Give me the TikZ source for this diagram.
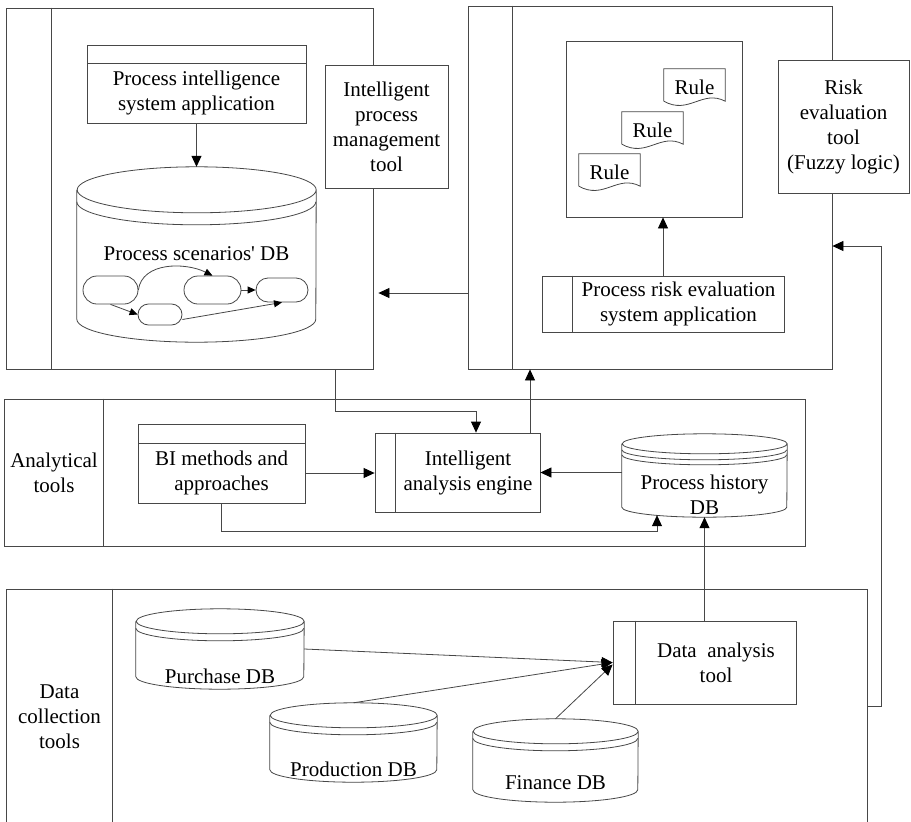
\documentclass[tikz,border=0pt]{standalone}
\usepackage{fontspec}
\setmainfont{Liberation Serif}
\usetikzlibrary{arrows.meta,shapes.misc}
\colorlet{ln}{black!72}

% database cylinder drawn round an invisible node: name, half width, ellipse radius, ring offsets
\newcommand{\dbshape}[4]{%
  \draw[wire, fill=white] ([yshift={-#3*1pt}]#1.north west) -- ([yshift={#3*1pt}]#1.south west)
    arc[start angle=180, end angle=360, x radius=#2pt, y radius=#3pt]
    -- ([yshift={-#3*1pt}]#1.north east)
    arc[start angle=0, end angle=360, x radius=#2pt, y radius=#3pt];
  \foreach \r in {#4}{%
    \draw[wire] ([yshift={-(#3+\r)*1pt}]#1.north west)
      arc[start angle=180, end angle=360, x radius=#2pt, y radius=#3pt];}%
}
% document symbol with a wavy lower edge: name, left, top
\newcommand{\ruledoc}[3]{%
  \node[minimum width=61pt, minimum height=32pt] (#1) at (#2+30.5,#3+16) {};
  \draw[wire, fill=white] (#1.south west) -- (#1.north west) -- (#1.north east) -- (#1.south east)
    .. controls ([xshift=-23pt,yshift=12pt]#1.south east) and ([xshift=25pt,yshift=-14pt]#1.south west) .. (#1.south west);
  \node (#1t) at ([yshift=-2pt]#1.center) {Rule};
}

\begin{document}
\begin{tikzpicture}[x=1pt,y=-1pt,
  every node/.style={font=\fontsize{21}{25}\selectfont, align=center, inner sep=0pt},
  wire/.style={draw=ln, line width=0.8pt},
  box/.style={wire, fill=white, rectangle},
  lane/.style={wire, rectangle},
  pill/.style={wire, fill=white, rounded rectangle},
  arr/.style={wire, -{Triangle[length=11pt,width=10pt,color=black]}},
  sarr/.style={wire, -{Triangle[length=8pt,width=7pt,color=black]}}
]
\useasboundingbox (0,0) rectangle (911,822);

% ---------- lanes ----------
\node[lane, minimum width=367pt, minimum height=361pt] (lane1) at (189.5,188.5) {};
\draw[wire] ([xshift=46pt]lane1.north west) -- ([xshift=46pt]lane1.south west);
\node[lane, minimum width=364pt, minimum height=363pt] (lane2) at (650,187.5) {};
\draw[wire] ([xshift=45pt]lane2.north west) -- ([xshift=45pt]lane2.south west);
\node[lane, minimum width=801pt, minimum height=147pt] (lane3) at (404.5,472.5) {};
\draw[wire] ([xshift=100pt]lane3.north west) -- ([xshift=100pt]lane3.south west);
\node[lane, minimum width=861pt, minimum height=241pt] (lane4) at (436.5,709.5) {};
\draw[wire] ([xshift=107pt]lane4.north west) -- ([xshift=107pt]lane4.south west);

\node (lbl3) at (54,472.5) {Analytical\\tools};
\node (lbl4) at (59.5,717) {Data\\collection\\tools};

% ---------- process intelligence ----------
\node[box, minimum width=219pt, minimum height=18pt] (pisahd) at (196.5,54) {};
\node[box, minimum width=219pt, minimum height=60pt] (pisa) at (196.5,93) {Process intelligence\\system application};
\node[minimum width=239pt, minimum height=175pt] (scen) at (196.5,254.5) {};
\dbshape{scen}{119.5}{23}{12}
\node (scentxt) at (196.5,254) {Process scenarios\textquotesingle{} DB};
\node[pill, minimum width=55pt, minimum height=28pt] (pA) at (110.5,290) {};
\node[pill, minimum width=44pt, minimum height=21pt] (pB) at (160,314.5) {};
\node[pill, minimum width=57pt, minimum height=28pt] (pC) at (212.5,290) {};
\node[pill, minimum width=52pt, minimum height=24pt] (pD) at (282,290) {};
\draw[arr] (pisa.south) -- (scen.north);
\draw[sarr] (pA.south) -- (pB.west);
\draw[sarr] (pA.east) .. controls (142,262) and (185,262) .. (pC.north);
\draw[sarr] (pC.east) -- (pD.west);
\draw[sarr] ([yshift=-5pt]pB.east) -- (pD.south);
\node[box, minimum width=123pt, minimum height=123pt] (ipmt) at (386.5,126.5) {Intelligent\\process\\management\\tool};

% ---------- risk evaluation ----------
\node[box, minimum width=176pt, minimum height=176pt] (rules) at (654,129) {};
\ruledoc{ruleA}{664}{69}
\ruledoc{ruleB}{622}{112}
\ruledoc{ruleC}{579}{154}
\node[box, minimum width=131pt, minimum height=133pt] (ret) at (843.5,126.5) {Risk\\evaluation\\tool\\(Fuzzy logic)};
\node[box, minimum width=242pt, minimum height=56pt] (pre) at (663,304) {};
\draw[wire] ([xshift=31pt]pre.north west) -- ([xshift=31pt]pre.south west);
\node (pretxt) at (678.5,304) {Process risk evaluation\\system application};
\draw[arr] (pre.north) -- (pre.north |- rules.south);
\coordinate (mid) at (0,293);
\draw[arr, shorten >=5pt] (lane2.west |- mid) -- (lane1.east |- mid);

% ---------- analytical tools ----------
\node[box, minimum width=167pt, minimum height=19pt] (bihd) at (221.5,433.5) {};
\node[box, minimum width=167pt, minimum height=60pt] (bi) at (221.5,473) {BI methods and\\approaches};
\node[box, minimum width=165pt, minimum height=79pt] (iae) at (457.5,472.5) {};
\draw[wire] ([xshift=21pt]iae.north west) -- ([xshift=21pt]iae.south west);
\node (iaetxt) at (468,472.5) {Intelligent\\analysis engine};
\node[minimum width=165pt, minimum height=83pt] (phdb) at (704.5,475.5) {};
\dbshape{phdb}{82.5}{10}{6,11}
\node (phdbtxt) at (704.5,495) {Process history\\DB};

\draw[arr] (bi.east) -- (iae.west |- bi.east);
\draw[arr] (phdb.west |- iae.east) -- (iae.east);
\coordinate (j1) at (335,411);
\coordinate (j2) at (476,411);
\draw[arr] (lane1.south -| j1) -- (j1) -- (j2) -- (iae.north -| j2);
\coordinate (j3) at (530,0);
\draw[arr] (iae.north -| j3) -- (lane2.south -| j3);
\coordinate (j4) at (657,531);
\draw[arr] (bi.south) |- (j4) -- ([yshift=2pt]phdb.south -| j4);

% ---------- data collection tools ----------
\node[box, minimum width=183pt, minimum height=83pt] (dat) at (704.5,662.5) {};
\draw[wire] ([xshift=23pt]dat.north west) -- ([xshift=23pt]dat.south west);
\node (dattxt) at (716,663) {Data\ \ analysis\\tool};
\draw[arr] (dat.north) -- (phdb.south);

\node[minimum width=168pt, minimum height=80pt] (purch) at (220,649) {};
\dbshape{purch}{84}{12.5}{7}
\node (purchtxt) at (220,676) {Purchase DB};
\node[minimum width=167pt, minimum height=79pt] (prod) at (353.5,742.5) {};
\dbshape{prod}{83.5}{12.5}{7}
\node (prodtxt) at (353.5,769) {Production DB};
\node[minimum width=165pt, minimum height=83pt] (fin) at (555.5,760.5) {};
\dbshape{fin}{82.5}{12.5}{7}
\node (fintxt) at (555.5,783) {Finance DB};

\draw[arr] (purch.east) -- (dat.west);
\draw[arr] (prod.north) -- (dat.west);
\draw[arr] (fin.north) -- ([yshift=-2pt]dat.west);

\coordinate (fb1) at (881,706);
\coordinate (fb2) at (881,246);
\draw[arr] (lane4.east |- fb1) -- (fb1) -- (fb2) -- (lane2.east |- fb2);
\end{tikzpicture}
\end{document}
